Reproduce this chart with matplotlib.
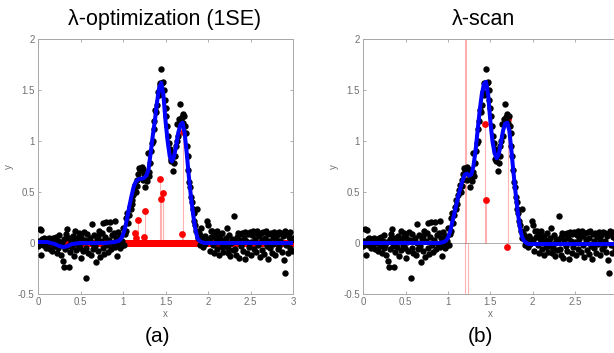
import numpy as np
import matplotlib.pyplot as plt

plt.rcParams['font.family'] = ['Liberation Sans', 'DejaVu Sans']

# noisy measurements, one value every 0.01 from x=0 to x=3
y_data = [
    -0.03, 0.02, 0.14, -0.12, 0.13, 0.04, -0.02, 0.05, 0.03, -0.05,
    0.04, -0.01, 0.02, 0.05, -0.06, 0.03, 0.00, -0.08, 0.05, 0.01,
    -0.03, 0.06, -0.10, 0.02, -0.05, 0.08, -0.02, -0.12, 0.01, -0.18,
    -0.24, 0.04, -0.06, 0.09, 0.14, -0.03, -0.24, 0.05, -0.09, 0.02,
    -0.04, 0.07, -0.13, 0.03, 0.12, -0.07, 0.05, -0.02, 0.10, -0.05,
    -0.15, 0.06, 0.01, -0.08, 0.11, 0.03, -0.34, -0.05, 0.09, -0.10,
    0.02, 0.05, -0.12, 0.19, 0.00, -0.06, 0.08, -0.03, -0.19, 0.04,
    0.07, -0.08, 0.12, -0.14, 0.02, 0.10, -0.05, 0.20, -0.11, 0.06,
    0.21, -0.02, -0.09, 0.14, 0.03, 0.21, -0.06, 0.08, -0.01, 0.10,
    0.22, -0.04, 0.05, -0.13, 0.11, 0.00, -0.05, 0.07, -0.03, 0.02,
    0.15, -0.02, 0.09, 0.25, 0.12, 0.29, 0.20, 0.27, 0.35, 0.33,
    0.42, 0.38, 0.47, 0.52, 0.57, 0.50, 0.62, 0.56, 0.68, 0.74,
    0.72, 0.73, 0.75, 0.62, 0.73, 0.68, 0.55, 0.64, 0.61, 0.88,
    0.70, 0.66, 0.78, 0.90, 0.98, 1.00, 1.12, 1.20, 1.30, 1.28,
    1.35, 1.48, 1.45, 1.57, 1.55, 1.71, 1.57, 1.58, 1.50, 1.40,
    1.32, 1.25, 1.15, 1.05, 0.98, 0.92, 0.82, 0.80, 0.88, 0.71,
    0.78, 0.85, 0.95, 1.00, 1.17, 1.05, 1.22, 1.36, 1.20, 1.24,
    1.26, 1.18, 1.25, 1.15, 1.08, 0.95, 0.85, 0.72, 0.60, 0.55,
    0.45, 0.40, 0.33, 0.29, 0.22, 0.18, 0.12, 0.33, 0.05, 0.10,
    0.08, -0.02, 0.15, 0.05, -0.04, 0.02, 0.07, -0.01, 0.04, 0.22,
    0.18, 0.03, -0.08, 0.12, 0.06, 0.12, -0.02, -0.10, 0.08, 0.04,
    0.12, -0.06, 0.01, -0.12, 0.07, 0.03, -0.04, 0.10, -0.09, 0.02,
    -0.03, 0.05, 0.15, -0.10, -0.05, 0.08, -0.13, 0.00, 0.04, -0.07,
    0.02, 0.26, -0.06, -0.12, 0.06, 0.10, -0.15, 0.03, 0.09, -0.03,
    0.10, -0.08, 0.05, -0.16, 0.11, 0.02, -0.10, 0.09, -0.04, 0.11,
    0.01, -0.12, 0.08, 0.12, -0.06, 0.04, 0.10, -0.09, 0.12, -0.02,
    0.07, -0.14, 0.10, 0.03, -0.07, 0.11, -0.11, 0.05, 0.12, -0.03,
    -0.16, 0.09, 0.02, -0.05, 0.10, -0.10, 0.06, -0.01, 0.11, -0.12,
    0.04, 0.08, -0.06, 0.11, -0.03, 0.02, 0.10, -0.09, 0.07, -0.17,
    -0.29, 0.12, -0.02, 0.09, -0.10, 0.06, 0.11, -0.05, 0.03, -0.08,
    0.05,
]
x_data = np.arange(len(y_data)) / 100.0

# fitted curves
fit_x = [0, 0.1, 0.2, 0.25, 0.3, 0.35, 0.4, 0.5, 0.6, 0.8, 0.9, 0.95, 0.975,
         1.0, 1.025, 1.05, 1.075, 1.1, 1.125, 1.15, 1.175, 1.2, 1.225, 1.25,
         1.275, 1.3, 1.325, 1.35, 1.375, 1.4, 1.425, 1.45, 1.475, 1.5, 1.525,
         1.55, 1.575, 1.6, 1.625, 1.65, 1.675, 1.7, 1.725, 1.75, 1.775, 1.8,
         1.825, 1.85, 1.875, 1.9, 1.925, 1.95, 2.0, 2.5, 3.0]
fit_a = [0.01, 0.01, -0.01, -0.03, -0.04, -0.03, -0.01, 0.0, 0.0, 0.0, 0.01, 0.02, 0.04,
         0.08, 0.15, 0.25, 0.36, 0.46, 0.55, 0.60, 0.62, 0.63, 0.63, 0.64,
         0.66, 0.72, 0.88, 1.05, 1.20, 1.38, 1.52, 1.57, 1.45, 1.20, 1.00,
         0.85, 0.80, 0.85, 0.95, 1.08, 1.16, 1.18, 1.08, 0.88, 0.65, 0.45,
         0.28, 0.14, 0.05, 0.02, 0.01, 0.0, 0.0, 0.0, 0.0]
fit_b = [0.0, 0.0, 0.0, 0.0, 0.0, 0.0, 0.0, 0.0, 0.0, 0.0, 0.0, 0.01, 0.02,
         0.05, 0.11, 0.20, 0.29, 0.38, 0.47, 0.55, 0.62, 0.67, 0.68, 0.66,
         0.67, 0.75, 0.90, 1.10, 1.30, 1.46, 1.56, 1.58, 1.45, 1.20, 1.00,
         0.88, 0.83, 0.87, 0.98, 1.10, 1.17, 1.18, 1.10, 0.90, 0.68, 0.48,
         0.30, 0.15, 0.06, 0.02, 0.0, -0.01, -0.01, -0.01, -0.01]

# coefficients (lambda-opt): zeros on the grid plus the non-zero ones
coef_a_x = list(x_data) + [1.14, 1.15, 1.18, 1.25, 1.26, 1.44, 1.45, 1.47, 1.69, 1.70]
coef_a_y = [0.0] * len(x_data) + [0.10, 0.045, 0.23, 0.06, 0.31, 0.63, 0.43, 0.49, 0.09, 1.09]
# coefficients (lambda-scan): only non-zero ones
coef_b_x = [1.20, 1.21, 1.205, 1.24, 1.44, 1.445, 1.70, 1.71]
coef_b_y = [6.0, 6.0, -6.0, -6.0, 1.17, 0.42, -0.04, 1.22]

xtick_labels = ['0', '0.5', '1', '1.5', '2', '2.5', '3']
ytick_labels = ['-0.5', '0', '0.5', '1', '1.5', '2']

W, H = 614, 353
fig = plt.figure(figsize=(W / 100, H / 100), dpi=100)

def style(ax, xlabels):
    ax.set_xlim(0, 3)
    ax.set_ylim(-0.5, 2)
    ax.set_xticks([0, 0.5, 1, 1.5, 2, 2.5, 3])
    ax.set_xticklabels(xlabels)
    ax.set_yticks([-0.5, 0, 0.5, 1, 1.5, 2])
    ax.set_yticklabels(ytick_labels)
    ax.tick_params(direction='in', length=2.2, width=0.6, colors='#a0a0a0',
                   labelcolor='#707070', labelsize=7, pad=2.5,
                   top=True, right=True)
    for s in ax.spines.values():
        s.set_color('#a8a8a8')
        s.set_linewidth(0.7)
    ax.set_xlabel('x', fontsize=7, color='#707070', labelpad=1)
    ax.set_ylabel('y', fontsize=7, color='#707070', labelpad=3)
    ax.axhline(0, color='#a0a0a0', lw=0.6, zorder=1)

ax1 = fig.add_axes([38 / W, 59 / H, 255 / W, 255 / H])
ax2 = fig.add_axes([363.3 / W, 59 / H, 254 / W, 255 / H])

panels = [(ax1, coef_a_x, coef_a_y, fit_a, xtick_labels),
          (ax2, coef_b_x, coef_b_y, fit_b, xtick_labels[:-1] + [''])]
for ax, cx, cy, fy, xl in panels:
    style(ax, xl)
    ax.vlines(cx, 0, cy, colors='red', alpha=0.3, lw=0.8, zorder=2)
    ax.plot(cx, cy, 'o', color='red', ms=4.9, mew=0, zorder=3)
    ax.plot(x_data, y_data, 'o', color='black', ms=4.6, mew=0, zorder=4)
    ax.plot(fit_x, fy, color='#0000ff', lw=2.9, zorder=5)

fig.text(164.7 / W, 1 - 25 / H, 'λ-optimization (1SE)', ha='center', va='baseline', fontsize=15.5)
fig.text(483.7 / W, 1 - 25 / H, 'λ-scan', ha='center', va='baseline', fontsize=15.5)
fig.text(157.5 / W, 1 - 337 / H, '(a)', ha='center', va='center', fontsize=15)
fig.text(480 / W, 1 - 337 / H, '(b)', ha='center', va='center', fontsize=15)

fig.savefig('out.png', dpi=100)
